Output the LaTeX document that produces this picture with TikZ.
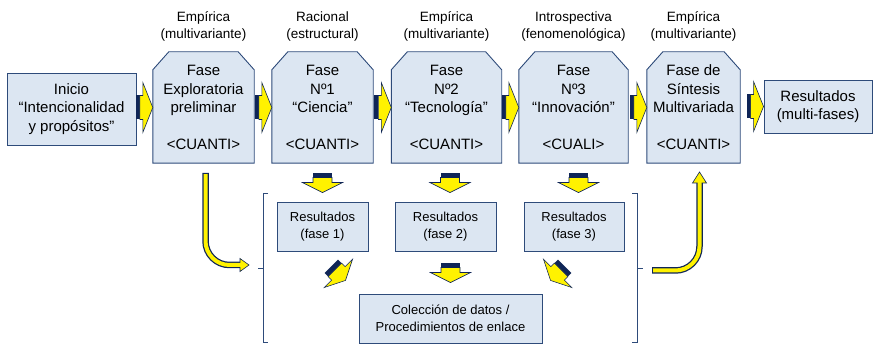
\documentclass[tikz,border=0pt]{standalone}
\usepackage{fontspec}
\setmainfont{Liberation Sans}
\usetikzlibrary{calc,backgrounds}

\definecolor{boxfill}{HTML}{DCE6F2}
\definecolor{boxline}{HTML}{2E4B7A}
\definecolor{arrdark}{HTML}{0F2557}

\newcommand\bigfs{\fontsize{15}{18.5}\selectfont}
\newcommand\lblfs{\fontsize{13.5}{17}\selectfont}
\newcommand\smlfs{\fontsize{13}{17.5}\selectfont}

\tikzset{
  box/.style={draw=boxline, fill=boxfill, line width=0.9pt, align=center, inner sep=0pt},
  phase/.style={align=center, inner sep=0pt, minimum height=111pt, font=\bigfs},
  phaseline/.style={draw=boxline, fill=boxfill, line width=0.9pt},
  mainbox/.style={box, font=\bigfs},
  resbox/.style={box, minimum height=49pt, font=\smlfs},
  lbl/.style={align=center, inner sep=0pt, font=\lblfs},
  brk/.style={draw=boxline, line width=0.8pt},
  % block arrow pointing right, tip at the origin
  harr/.pic={
    \fill[arrdark] (-17,-12) rectangle (-13,12);
    \draw[arrdark, fill=yellow, line width=0.6pt] (-13,-12) -- (-10,-12) -- (-10,-25) -- (0,0)
      -- (-10,25) -- (-10,12) -- (-13,12) -- cycle;
  },
  % block arrow pointing down, tip at the origin
  darr/.pic={
    \fill[arrdark] (-9.5,-20) rectangle (9.5,-15);
    \draw[arrdark, fill=yellow, line width=0.6pt] (-9.5,-15) -- (9.5,-15) -- (9.5,-10) -- (20,-10)
      -- (0,0) -- (-20,-10) -- (-9.5,-10) -- cycle;
  },
}

\begin{document}
\begin{tikzpicture}[x=1pt, y=-1pt]
\useasboundingbox (0,0) rectangle (873,344);

% upper row
\node[mainbox, minimum width=129pt, minimum height=72pt] (inicio) at (71.5,109)
  {Inicio\\“Intencionalidad\\y propósitos”};
\node[phase, minimum width=101pt] (explo) at (203.5,107.5)
  {Fase\\Exploratoria\\preliminar\\[18.5pt]<CUANTI>};
\node[phase, minimum width=101pt] (ciencia) at (322.5,107.5)
  {Fase\\Nº1\\“Ciencia”\\[18.5pt]<CUANTI>};
\node[phase, minimum width=110pt] (tecno) at (446.5,107.5)
  {Fase\\Nº2\\“Tecnología”\\[18.5pt]<CUANTI>};
\node[phase, minimum width=109pt] (innova) at (573.5,107.5)
  {Fase\\Nº3\\“Innovación”\\[18.5pt]<CUALI>};
\node[phase, minimum width=93pt] (sintesis) at (693.5,107.5)
  {Fase de\\Síntesis\\Multivariada\\[18.5pt]<CUANTI>};
\node[mainbox, minimum width=108pt, minimum height=53pt] (resfin) at (818,106.5)
  {Resultados\\(multi-fases)};

% chamfered outlines behind the phase texts
\begin{scope}[on background layer]
\foreach \n in {explo,ciencia,tecno,innova,sintesis}
  \draw[phaseline] (\n.south west) -- ($(\n.north west)+(0,18)$) -- ($(\n.north west)+(16,0)$)
    -- ($(\n.north east)+(-16,0)$) -- ($(\n.north east)+(0,18)$) -- (\n.south east) -- cycle;
\end{scope}

\foreach \n/\t in {explo/{Empírica\\(multivariante)}, ciencia/{Racional\\(estructural)},
  tecno/{Empírica\\(multivariante)}, innova/{Introspectiva\\(fenomenológica)},
  sintesis/{Empírica\\(multivariante)}}
  \node[lbl] (t\n) at ($(\n.north)+(0,-25.5)$) {\t};

\foreach \n in {explo,ciencia,tecno,innova,sintesis,resfin}
  \pic at (\n.west) {harr};

% lower part
\node[resbox, minimum width=91pt] (res1) at (322.5,226.5) {Resultados\\(fase 1)};
\node[resbox, minimum width=101pt] (res2) at (445.5,226.5) {Resultados\\(fase 2)};
\node[resbox, minimum width=100pt] (res3) at (574,226.5) {Resultados\\(fase 3)};
\node[resbox, minimum width=183pt] (colec) at (450.5,318.5)
  {Colección de datos /\\Procedimientos de enlace};

\pic at ($(res1.north)+(0,-9)$) {darr};
\pic at ($(res2.north)+(4.5,-9)$) {darr};
\pic at ($(res3.north)+(4.5,-9)$) {darr};
\pic at ($(colec.north)+(0,-11)$) {darr};
\pic[rotate=45] at ($(res1.south east)+(-23,29)$) {darr};
\pic[rotate=-45] at ($(res3.south west)+(27,29)$) {darr};

% brackets
\draw[brk] (268,193) -- (263,193) -- (263,342) -- (268,342);
\draw[brk] (263,268) -- (258,268);
\draw[brk] (632,193) -- (637,193) -- (637,342) -- (632,342);
\draw[brk] (637,268) -- (643,268);

% curved arrows
\coordinate (la) at (205.5,173);
\coordinate (lb) at (241,265);
\draw[arrdark, line width=6.5pt, rounded corners=24pt] (la) |- (lb);
\draw[arrdark, fill=yellow, line width=0.6pt] (240,258.5) -- (249,265) -- (240,271.5) -- cycle;
\draw[yellow, line width=4pt, rounded corners=24pt, shorten <=1.2pt] (la) |- ($(lb)+(0.8,0)$);

\coordinate (rb) at (652,270.5);
\coordinate (rt) at (699.5,183);
\draw[arrdark, line width=6.5pt, rounded corners=24pt] (rb) -| (rt);
\draw[arrdark, fill=yellow, line width=0.6pt] (692.5,183) -- (699.5,172) -- (706.5,183) -- cycle;
\draw[yellow, line width=4pt, rounded corners=24pt, shorten <=1.2pt] (rb) -| ($(rt)+(0,-0.8)$);

\end{tikzpicture}
\end{document}
